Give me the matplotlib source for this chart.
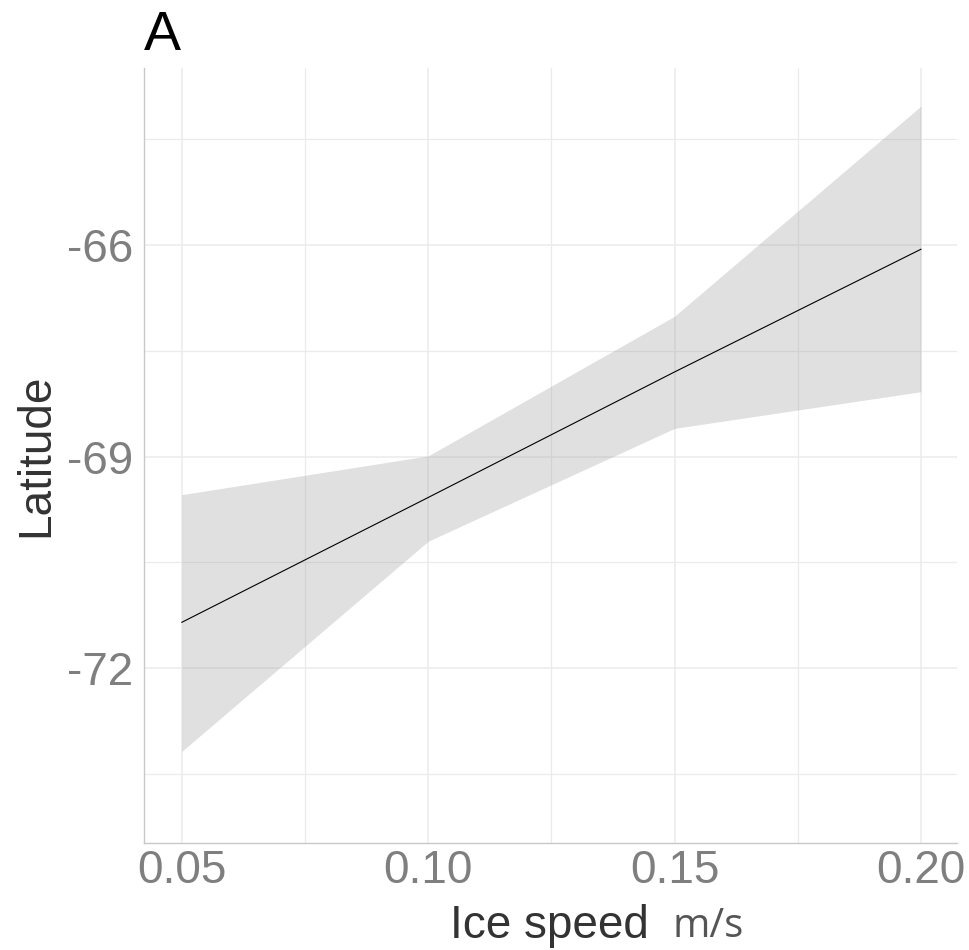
import numpy as np
import matplotlib
matplotlib.use('Agg')
import matplotlib.pyplot as plt

# fitted line and confidence band
ice_speed = [0.05, 0.10, 0.15, 0.20]
lat_fit = [-71.35, -69.58, -67.80, -66.06]
lat_upper = [-69.54, -68.99, -67.01, -64.03]
lat_lower = [-73.18, -70.20, -68.60, -68.08]

x_ticks = [0.05, 0.10, 0.15, 0.20]
x_labels = ['0.05', '0.10', '0.15', '0.20']
y_ticks = [-72, -69, -66]
y_labels = ['-72', '-69', '-66']

plt.rcParams['font.family'] = ['Liberation Sans', 'DejaVu Sans']

fig = plt.figure(figsize=(9.69, 9.5), dpi=100)
ax = fig.add_axes([0.149, 0.1126, 0.839, 0.8158])

ax.fill_between(ice_speed, lat_lower, lat_upper, color='#999999', alpha=0.3,
                linewidth=0, zorder=2)
ax.plot(ice_speed, lat_fit, color='black', linewidth=0.8, zorder=3)

ax.set_xlim(0.0424, 0.2074)
ax.set_ylim(-74.48, -63.49)

ax.set_xticks(x_ticks)
ax.set_xticklabels(x_labels)
ax.set_yticks(y_ticks)
ax.set_yticklabels(y_labels)
ax.set_xticks([0.075, 0.125, 0.175], minor=True)
ax.set_yticks([-73.5, -70.5, -67.5, -64.5], minor=True)

ax.grid(which='major', color='#ebebeb', linewidth=1.1, zorder=0)
ax.grid(which='minor', color='#ebebeb', linewidth=0.9, zorder=0)
ax.set_axisbelow(True)

ax.tick_params(which='both', length=0)
ax.tick_params(axis='x', labelsize=33, labelcolor='#7f7f7f', pad=4)
ax.tick_params(axis='y', labelsize=33, labelcolor='#7f7f7f', pad=8)

for side in ['top', 'right']:
    ax.spines[side].set_visible(False)
for side in ['left', 'bottom']:
    ax.spines[side].set_color('#c8c8c8')
    ax.spines[side].set_linewidth(1.0)

ax.set_ylabel('Latitude', fontsize=33, color='#333333', labelpad=6)

# x title: "Ice speed" plus unit in a different face
fig.text(450 / 969, 1 - 938 / 950, 'Ice speed', fontsize=33, color='#333333',
         ha='left', va='baseline')
fig.text(672 / 969, 1 - 937 / 950, 'm/s', fontsize=29, color='#555555',
         family=['Open Sans', 'DejaVu Sans'], ha='left', va='baseline')

fig.text(144 / 969, 1 - 50 / 950, 'A', fontsize=40, color='black',
         ha='left', va='baseline')

fig.savefig('out.png', dpi=100)
